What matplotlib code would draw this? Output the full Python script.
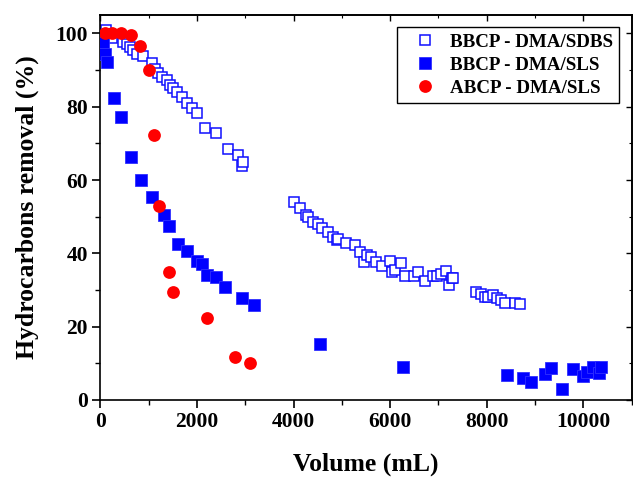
import matplotlib
matplotlib.use("Agg")
import matplotlib.pyplot as plt
from matplotlib.ticker import MultipleLocator

# BBCP - DMA/SDBS (open squares)
sdbs_x = [110, 235, 476, 545, 614, 683, 766, 877, 1063, 1132, 1200, 1270, 1374,
          1442, 1511, 1594, 1684, 1787, 1891, 1994, 2166, 2387, 2649, 2843, 2925,
          2960,
          4014, 4132, 4256, 4304, 4407, 4498, 4581, 4705, 4808, 4891, 4920, 5084,
          5270, 5383, 5452, 5521, 5604, 5714, 5832, 6006, 6029, 6097, 6222, 6305,
          6491, 6580, 6719, 6891, 6960, 7043, 7146, 7222, 7271, 7291,
          7773, 7871, 7960, 8029, 8119, 8202, 8285, 8374, 8581, 8684]
sdbs_y = [101.0, 98.6, 97.7, 97.1, 96.4, 95.5, 94.5, 93.8, 91.8, 90.4, 89.3, 88.2,
          87.3, 85.9, 85.0, 84.1, 82.7, 81.1, 79.7, 78.2, 74.1, 72.7, 68.4, 66.8,
          63.9, 65.0,
          53.9, 52.3, 50.5, 50.0, 48.6, 47.9, 46.8, 45.9, 44.5, 43.6, 44.0, 42.9,
          42.3, 40.4, 37.7, 39.5, 39.1, 37.7, 36.5, 38.0, 35.0, 35.4, 37.3, 33.8,
          33.8, 35.0, 32.5, 33.8, 33.8, 34.4, 35.2, 31.4, 33.2, 33.4,
          29.5, 28.8, 28.2, 28.0, 28.6, 27.9, 27.3, 26.4, 26.4, 26.1]

# BBCP - DMA/SLS (filled squares)
sls_x = [50, 97, 132, 283, 428, 635, 842, 1063, 1318, 1421, 1601, 1787, 1994,
         2104, 2214, 2387, 2573, 2932, 3180, 4552, 6262,
         8408, 8739, 8911, 9201, 9339, 9559, 9774, 9994, 10077, 10201, 10318, 10360]
sls_y = [97.5, 94.5, 92.2, 82.3, 77.3, 66.2, 60.0, 55.5, 50.4, 47.5, 42.6, 40.5,
         38.0, 37.0, 34.1, 33.5, 30.7, 27.9, 26.0, 15.3, 9.0,
         6.7, 5.9, 5.0, 7.0, 8.6, 3.0, 8.4, 6.5, 7.7, 8.9, 7.3, 8.9]

# ABCP - DMA/SLS (filled circles)
abcp_x = [97, 235, 422, 628, 821, 1014, 1118, 1215, 1415, 1511, 2201, 2793, 3097]
abcp_y = [100.0, 100.0, 100.0, 99.6, 96.6, 90.0, 72.3, 53.0, 34.8, 29.5, 22.4,
          11.8, 10.0]

plt.rcParams["font.family"] = ["Liberation Serif", "DejaVu Serif"]
plt.rcParams["font.weight"] = "bold"

fig = plt.figure(figsize=(6.33, 4.78), dpi=100)
ax = fig.add_axes([0.1585, 0.1632, 0.998 - 0.1585, 0.9686 - 0.1632])

ax.plot(sdbs_x, sdbs_y, linestyle="none", marker="s", markersize=7.2,
        markerfacecolor="white", markeredgecolor="#1010ff", markeredgewidth=1.1,
        label="BBCP - DMA/SDBS", zorder=2)
ax.plot(sls_x, sls_y, linestyle="none", marker="s", markersize=8.0,
        color="#0000ff", markeredgewidth=0.6, markeredgecolor="#3030ff",
        label="BBCP - DMA/SLS", zorder=3)
ax.plot(abcp_x, abcp_y, linestyle="none", marker="o", markersize=9.2,
        color="#ff0000", markeredgewidth=0, label="ABCP - DMA/SLS", zorder=4)

ax.set_xlim(0, 11000)
ax.set_ylim(0, 105)
ax.xaxis.set_major_locator(MultipleLocator(2000))
ax.xaxis.set_minor_locator(MultipleLocator(1000))
ax.yaxis.set_major_locator(MultipleLocator(20))
ax.yaxis.set_minor_locator(MultipleLocator(10))

ax.tick_params(which="major", direction="out", length=5.8, width=1.2,
               labelsize=15.5, pad=3)
ax.tick_params(which="minor", direction="out", length=3.6, width=1.0)
for lab in ax.get_xticklabels() + ax.get_yticklabels():
    lab.set_fontweight("bold")

# mirrored inward ticks on the top and right spines
secx = ax.secondary_xaxis("top")
secx.xaxis.set_major_locator(MultipleLocator(2000))
secx.xaxis.set_minor_locator(MultipleLocator(1000))
secx.tick_params(which="major", direction="in", length=4, width=1.0,
                 labeltop=False)
secx.tick_params(which="minor", direction="in", length=2.5, width=0.8)
secy = ax.secondary_yaxis("right")
secy.yaxis.set_major_locator(MultipleLocator(20))
secy.yaxis.set_minor_locator(MultipleLocator(10))
secy.tick_params(which="major", direction="in", length=4, width=1.0,
                 labelright=False)
secy.tick_params(which="minor", direction="in", length=2.5, width=0.8)

for sp in ax.spines.values():
    sp.set_linewidth(1.2)
secx.spines["top"].set_linewidth(1.2)
secy.spines["right"].set_linewidth(1.2)

ax.set_xlabel("Volume (mL)", fontsize=18.5, fontweight="bold", labelpad=15)
ax.set_ylabel("Hydrocarbons removal (%)", fontsize=18.5, fontweight="bold",
              labelpad=12)

leg = ax.legend(loc="upper right", bbox_to_anchor=(0.9765, 0.968),
                prop={"weight": "bold", "size": 13.7}, frameon=True,
                fancybox=False, edgecolor="black", framealpha=1,
                borderpad=0.32, labelspacing=0.3, handletextpad=0.15,
                handlelength=2.3, borderaxespad=0.0)
leg.get_frame().set_linewidth(1.0)

fig.savefig("out.png", dpi=100)
